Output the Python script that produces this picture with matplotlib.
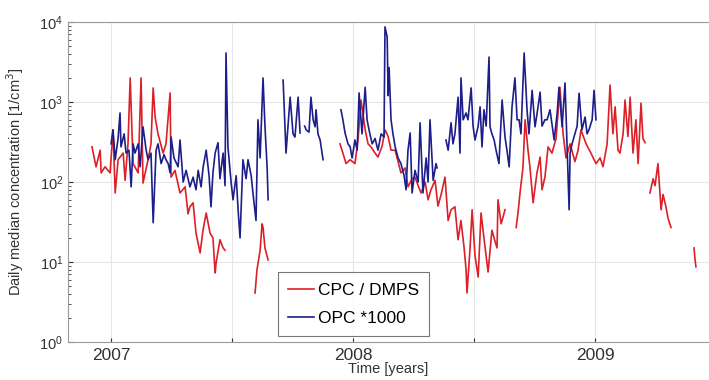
import numpy as np
import matplotlib
matplotlib.use("Agg")
import matplotlib.pyplot as plt

plt.rcParams['font.family'] = ['Liberation Sans', 'DejaVu Sans']

nan = np.nan

# CPC / DMPS, time in decimal years, concentration in 1/cm3
cpc_t = [2006.921, 2006.938, 2006.955, 2006.959, 2006.975, 2006.996, 2007.008, 2007.017,
         2007.029, 2007.050, 2007.058, 2007.070, 2007.079, 2007.091, 2007.112, 2007.124,
         2007.132, 2007.153, 2007.165, 2007.174, 2007.182, 2007.194, 2007.215, 2007.227,
         2007.244, 2007.248, 2007.264, 2007.285, 2007.306, 2007.318, 2007.326, 2007.339,
         2007.351, 2007.368, 2007.380, 2007.393, 2007.409, 2007.421, 2007.430, 2007.434,
         2007.450, 2007.463, 2007.471, 2007.53,
         2007.595, 2007.603, 2007.616, 2007.624, 2007.628, 2007.636, 2007.649, 2007.80,
         2007.946, 2007.958, 2007.971, 2007.988, 2008.008, 2008.021, 2008.033, 2008.050,
         2008.062, 2008.074, 2008.091, 2008.103, 2008.120, 2008.132, 2008.145, 2008.157,
         2008.174, 2008.186, 2008.198, 2008.215, 2008.227, 2008.244, 2008.256, 2008.269,
         2008.281, 2008.298, 2008.310, 2008.322, 2008.339, 2008.351, 2008.364, 2008.380,
         2008.393, 2008.405, 2008.421, 2008.434, 2008.446, 2008.459, 2008.467, 2008.471,
         2008.483, 2008.492, 2008.504, 2008.517, 2008.529, 2008.541, 2008.558, 2008.574,
         2008.587, 2008.595, 2008.599, 2008.612, 2008.628, 2008.650,
         2008.674, 2008.682, 2008.690, 2008.702, 2008.711, 2008.723, 2008.731, 2008.744,
         2008.760, 2008.773, 2008.781, 2008.793, 2008.806, 2008.822, 2008.839, 2008.855,
         2008.868, 2008.880, 2008.897, 2008.917, 2008.930, 2008.942, 2008.963, 2008.983,
         2009.004, 2009.021, 2009.033, 2009.050, 2009.062, 2009.074, 2009.083, 2009.095,
         2009.103, 2009.116, 2009.124, 2009.136, 2009.145, 2009.157, 2009.169, 2009.178,
         2009.190, 2009.198, 2009.207, 2009.217,
         2009.227, 2009.240, 2009.248, 2009.260, 2009.273, 2009.281, 2009.293, 2009.302,
         2009.314, 2009.36,
         2009.409, 2009.413, 2009.417]
cpc_v = [275, 155, 250, 130, 155, 130, 450, 73,
         190, 230, 105, 300, 2000, 170, 130, 2000,
         97, 190, 300, 1500, 650, 400, 230, 300,
         1300, 115, 140, 73, 87, 40, 49, 55,
         23, 13, 25, 41, 23, 20, 7.3, 9.7,
         19, 15, 14, nan,
         4.1, 8, 14, 30, 27, 15, 10.6, nan,
         300, 230, 170, 190, 170, 350, 1060, 450,
         300, 275, 230, 205, 280, 450, 370, 250,
         250, 180, 130, 150, 87, 110, 115, 90,
         73, 100, 60, 80, 105, 50, 70, 115,
         33, 45, 49, 19, 33, 15, 8, 4.1,
         14, 45, 12, 6.5, 41, 20, 7.5, 25,
         18, 15, 60, 30, 45, nan,
         27, 42, 73, 150, 600, 250, 155, 55,
         130, 205, 80, 115, 275, 230, 350, 1530,
         400, 200, 300, 180, 250, 450, 300, 230,
         170, 200, 155, 300, 1630, 400, 870, 250,
         230, 400, 1060, 370, 1150, 230, 600, 170,
         970, 350, 310, nan,
         73, 110, 90, 170, 45, 70, 49, 35,
         27, nan,
         15, 11, 8.7]

# OPC, scaled by 1000
opc_t = [2007.000, 2007.008, 2007.017, 2007.029, 2007.037, 2007.041, 2007.054, 2007.062,
         2007.074, 2007.083, 2007.091, 2007.099, 2007.112, 2007.120, 2007.132, 2007.145,
         2007.153, 2007.165, 2007.174, 2007.186, 2007.194, 2007.207, 2007.219, 2007.227,
         2007.236, 2007.244, 2007.248, 2007.260, 2007.277, 2007.285, 2007.298, 2007.310,
         2007.326, 2007.339, 2007.351, 2007.360, 2007.372, 2007.380, 2007.393, 2007.405,
         2007.413, 2007.421, 2007.430, 2007.442, 2007.450, 2007.463, 2007.471, 2007.475,
         2007.483, 2007.496, 2007.504, 2007.517, 2007.525, 2007.533, 2007.545, 2007.558,
         2007.566, 2007.579, 2007.587, 2007.599, 2007.607, 2007.616, 2007.628, 2007.636,
         2007.645, 2007.649, 2007.68,
         2007.711, 2007.723, 2007.731, 2007.740, 2007.752, 2007.760, 2007.773, 2007.781,
         2007.790,
         2007.800, 2007.806, 2007.818, 2007.826, 2007.835, 2007.843, 2007.847, 2007.855,
         2007.864, 2007.876, 2007.91,
         2007.950, 2007.958, 2007.967, 2007.979, 2007.988, 2007.996, 2008.008, 2008.017,
         2008.025, 2008.037, 2008.050, 2008.058, 2008.066, 2008.079, 2008.091, 2008.103,
         2008.116, 2008.128, 2008.132, 2008.141, 2008.145, 2008.149, 2008.157, 2008.165,
         2008.174, 2008.186, 2008.198, 2008.211, 2008.219, 2008.227, 2008.236, 2008.244,
         2008.256, 2008.269, 2008.277, 2008.289, 2008.302, 2008.310, 2008.318, 2008.331,
         2008.343, 2008.347, 2008.365,
         2008.384, 2008.393, 2008.405, 2008.413, 2008.421, 2008.434, 2008.442, 2008.446,
         2008.455, 2008.467, 2008.475, 2008.488, 2008.496, 2008.504, 2008.517, 2008.525,
         2008.533, 2008.541, 2008.550, 2008.562, 2008.566, 2008.574, 2008.583, 2008.591,
         2008.603, 2008.616, 2008.628, 2008.636, 2008.645, 2008.657, 2008.669, 2008.678,
         2008.686, 2008.694, 2008.707, 2008.719, 2008.727, 2008.740, 2008.752, 2008.760,
         2008.773, 2008.781, 2008.793, 2008.802, 2008.814, 2008.831, 2008.843, 2008.851,
         2008.864, 2008.876, 2008.884, 2008.893, 2008.897, 2008.905, 2008.913, 2008.926,
         2008.934, 2008.946, 2008.959, 2008.967, 2008.975, 2008.988, 2008.996, 2009.004]
opc_v = [300, 450, 190, 350, 730, 275, 400, 230,
         250, 87, 300, 230, 300, 155, 490, 250,
         190, 230, 31, 250, 300, 170, 220, 190,
         170, 130, 365, 200, 155, 335, 100, 140,
         87, 115, 80, 140, 87, 150, 250, 120,
         49, 130, 230, 310, 110, 230, 90, 4100,
         275, 100, 60, 120, 45, 20, 190, 110,
         190, 120, 70, 33, 600, 200, 2000, 500,
         150, 60, nan,
         1880, 230, 500, 1150, 400, 365, 1150, 410,
         nan,
         500, 450, 420, 1150, 600, 490, 800, 400,
         335, 190, nan,
         800, 600, 410, 300, 275, 200, 335, 250,
         1300, 400, 1530, 600, 450, 300, 350, 250,
         400, 365, 8700, 6500, 1200, 2700, 600, 400,
         275, 200, 170, 120, 80, 250, 410, 73,
         140, 100, 550, 73, 200, 100, 600, 105,
         170, 150, nan,
         335, 250, 550, 300, 400, 1150, 230, 2000,
         600, 730, 600, 1500, 500, 335, 500, 870,
         275, 800, 500, 3650, 490, 400, 335, 250,
         170, 1060, 365, 250, 155, 870, 2000, 600,
         600, 400, 4100, 800, 400, 1400, 490, 700,
         1330, 500, 600, 600, 800, 335, 700, 1530,
         490, 1730, 300, 45, 230, 300, 365, 500,
         1290, 450, 650, 400, 450, 600, 1400, 600]

fig = plt.figure(figsize=(7.09, 3.8), dpi=100)
ax = fig.add_axes([0.0959, 0.1, 0.9041, 0.842])

ax.plot(cpc_t, cpc_v, color='#dc2028', lw=1.2, label='CPC / DMPS')
ax.plot(opc_t, opc_v, color='#1e1e8a', lw=1.2, label='OPC *1000')

ax.set_yscale('log')
ax.set_ylim(1, 1e4)
ax.set_xlim(2006.822, 2009.471)
ax.set_xticks([2007, 2007.5, 2008, 2008.5, 2009])
ax.set_xticklabels(['2007', '', '2008', '', '2009'])
ax.tick_params(axis='both', which='both', direction='in', colors='#333333')
ax.tick_params(axis='y', which='major', labelsize=10.5)
ax.tick_params(axis='y', which='minor', length=2)
ax.tick_params(axis='x', which='major', length=3, pad=4, labelsize=12.5)
ax.grid(True, which='major', color='#e6e6e6', lw=0.8)
ax.set_axisbelow(True)
for s in ax.spines.values():
    s.set_color('#999999')
    s.set_linewidth(0.8)
ax.spines['right'].set_visible(False)

ax.set_ylabel('Daily median concentration [1/cm$^3$]', fontsize=10.5, color='#333333')
ax.yaxis.set_label_coords(-0.066, 0.5)
ax.set_xlabel('Time [years]', fontsize=10.5, color='#333333', labelpad=-0.5)

leg = ax.legend(loc='lower left', bbox_to_anchor=(0.327, 0.018), fontsize=12.5,
                frameon=True, fancybox=False, handlelength=1.5, handletextpad=0.2,
                borderpad=0.6, labelspacing=0.75, borderaxespad=0)
leg.get_frame().set_edgecolor('#555555')
leg.get_frame().set_linewidth(0.8)

fig.savefig('out.png', dpi=100)
